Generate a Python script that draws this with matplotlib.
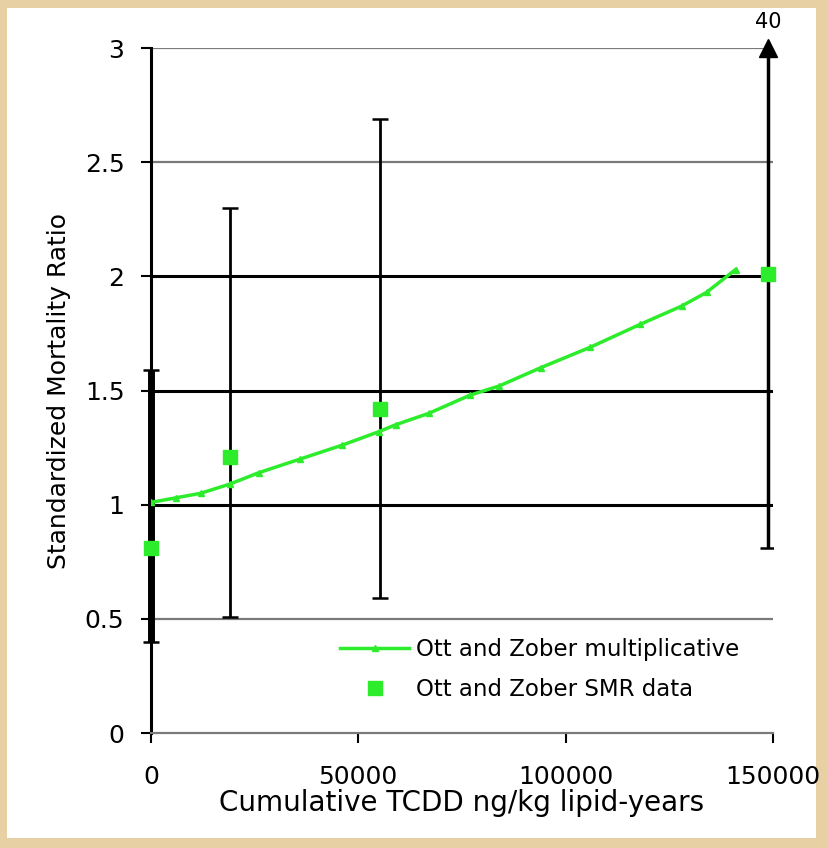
import numpy as np
import matplotlib
matplotlib.use("Agg")
import matplotlib.pyplot as plt

plt.rcParams['font.family'] = ['DejaVu Sans']

# Ott and Zober multiplicative model
model_x = [0, 6000, 12000, 19000, 26000, 36000, 46000, 55000, 59000, 67000,
           77000, 84000, 94000, 106000, 118000, 128000, 134000, 141000]
model_y = [1.01, 1.03, 1.05, 1.09, 1.14, 1.20, 1.26, 1.32, 1.35, 1.40,
           1.48, 1.52, 1.60, 1.69, 1.79, 1.87, 1.93, 2.03]

# Ott and Zober SMR data with confidence limits
smr_x = [0, 19000, 55200, 148800]
smr = [0.81, 1.21, 1.42, 2.01]
smr_lo = [0.40, 0.51, 0.59, 0.81]
smr_hi = [1.59, 2.30, 2.69, 40]

green = '#2cec2c'

fig = plt.figure(figsize=(8.29, 8.48), dpi=100, facecolor='#e6d0a4')
# white panel behind the chart
bg = fig.add_axes([0.008, 0.012, 0.976, 0.978], zorder=-1)
bg.set_facecolor('white')
bg.set_xticks([])
bg.set_yticks([])
for s in bg.spines.values():
    s.set_visible(False)

ax = fig.add_axes([0.182, 0.1356, 0.7503, 0.8077])
ax.set_facecolor('none')

ax.set_xlim(0, 150000)
ax.set_ylim(0, 3)

# gridlines
for g in [0.5, 2.5, 3.0]:
    ax.axhline(g, color='#7a7a7a', lw=1.6, zorder=1)
for g in [1.0, 1.5, 2.0]:
    ax.axhline(g, color='black', lw=2.2, zorder=1)

# error bars
widths = [5, 2, 2, 2.5]
for i in range(len(smr_x)):
    eb = ax.errorbar([smr_x[i]], [smr[i]],
                     yerr=[[smr[i] - smr_lo[i]], [smr_hi[i] - smr[i]]],
                     fmt='none', ecolor='black', elinewidth=widths[i],
                     capsize=6, capthick=1.8, zorder=2)
    if i == 0:
        for art in eb.lines[1] + eb.lines[2]:
            art.set_clip_on(False)

# arrow for the truncated upper limit
ax.plot([smr_x[3]], [3.0], marker='^', color='black', markersize=13,
        clip_on=False, zorder=3)
ax.text(smr_x[3], 3.07, str(smr_hi[3]), ha='center', va='bottom', fontsize=15,
        clip_on=False)

ax.plot(model_x, model_y, color=green, lw=2.5, marker='^', markersize=4,
        label='Ott and Zober multiplicative', zorder=4)
ax.plot(smr_x, smr, linestyle='none', marker='s', color=green, markersize=10,
        label='Ott and Zober SMR data', zorder=5, clip_on=False)

ax.set_yticks([0, 0.5, 1, 1.5, 2, 2.5, 3])
ax.set_yticklabels(['0', '0.5', '1', '1.5', '2', '2.5', '3'])
ax.set_xticks([0, 50000, 100000, 150000])
ax.set_xticklabels(['0', '50000', '100000', '150000'])
ax.tick_params(axis='both', labelsize=18, length=7, width=1.5, color='black')
ax.tick_params(axis='y', pad=12)
ax.tick_params(axis='x', pad=16)

for s in ['top', 'right']:
    ax.spines[s].set_visible(False)
ax.spines['left'].set_linewidth(2.2)
ax.spines['bottom'].set_color('#7a7a7a')
ax.spines['bottom'].set_linewidth(1.6)

ax.set_ylabel('Standardized Mortality Ratio', fontsize=18, labelpad=10)
ax.set_xlabel('Cumulative TCDD ng/kg lipid-years', fontsize=20, labelpad=0)

ax.legend(loc='upper left', bbox_to_anchor=(0.29, 0.152), frameon=False,
          fontsize=16.5, handlelength=3.0, handletextpad=0.3, labelspacing=0.75,
          borderaxespad=0)

fig.savefig('out.png', dpi=100, facecolor=fig.get_facecolor())
